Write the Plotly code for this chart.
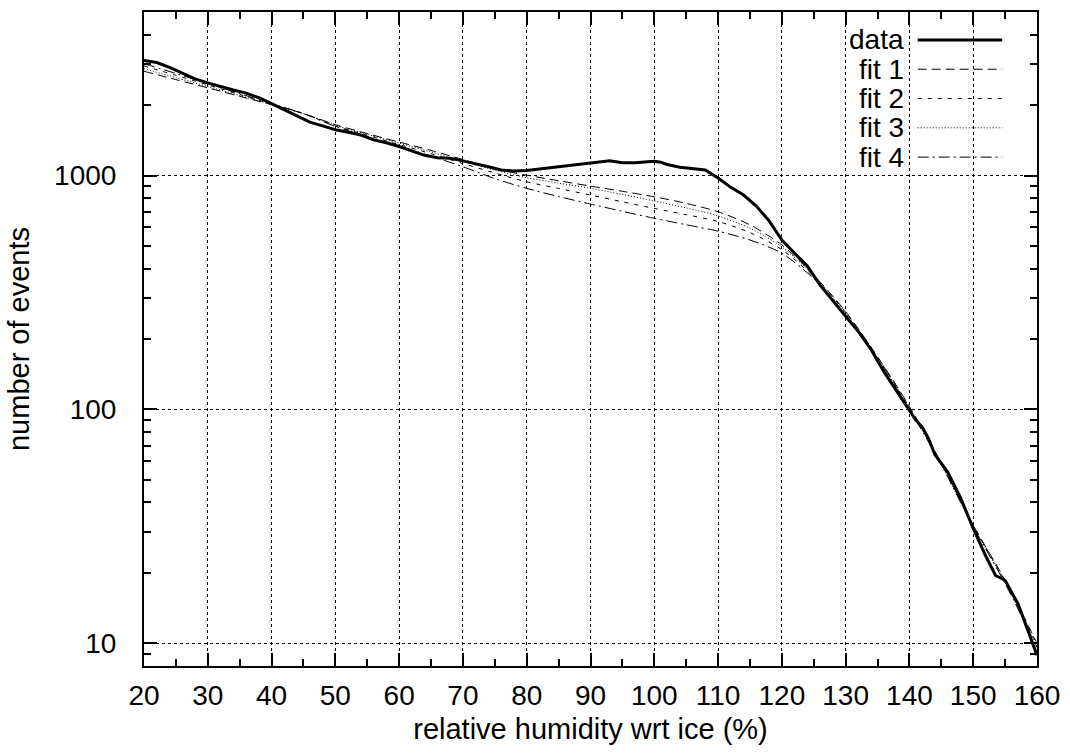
import plotly.graph_objs as go

# measured distribution
rh_data = [20, 22, 24, 26, 28, 30, 32, 34, 36, 38, 40, 42, 44, 46, 48, 50,
           52, 54, 56, 58, 60, 62, 64, 66, 68, 70, 72, 74, 76, 78, 80, 82,
           84, 86, 88, 90, 92, 93, 95, 97, 99, 100, 101, 102, 104, 106, 108,
           110, 112, 114, 116, 118, 120, 122, 124, 126, 128, 130, 132, 134,
           136, 138, 140, 141, 142, 143, 144, 146, 148, 150, 152, 153.5, 155,
           157, 158.5, 160]
events_data = [3100, 3040, 2900, 2740, 2590, 2490, 2400, 2320, 2250, 2150,
               2030, 1910, 1790, 1690, 1630, 1570, 1530, 1490, 1420, 1380,
               1330, 1270, 1220, 1190, 1185, 1155, 1125, 1090, 1055, 1045,
               1050, 1065, 1080, 1100, 1115, 1125, 1145, 1155, 1135, 1135,
               1145, 1150, 1140, 1115, 1085, 1070, 1055, 975, 890, 825, 740,
               640, 530, 465, 410, 340, 290, 250, 215, 180, 145, 120, 100, 90,
               84, 75, 64, 54, 42, 31, 23.5, 19.5, 18.6, 14.8, 11.5, 8.9]

# fitted curves
rh_fit = [20, 25, 30, 35, 40, 45, 50, 55, 60, 65, 70, 75, 80, 85, 90, 95,
          100, 105, 110, 115, 120, 125, 130, 135, 140, 145, 150, 155, 160]
fit1 = [2790, 2570, 2370, 2180, 2010, 1840, 1650, 1510, 1390, 1280, 1170,
        1070, 1003, 950, 901, 856, 811, 760, 700, 615, 505, 375, 262, 168,
        103, 59, 32, 18.6, 10]
fit2 = [2940, 2680, 2440, 2220, 2020, 1840, 1630, 1485, 1355, 1240, 1125,
        1025, 940, 880, 825, 772, 723, 680, 636, 570, 482, 368, 260, 167,
        102, 59, 32, 18.4, 9.9]
fit3 = [2860, 2620, 2400, 2200, 2010, 1840, 1640, 1500, 1375, 1260, 1150,
        1055, 978, 928, 881, 830, 778, 727, 672, 595, 495, 372, 258, 166,
        101, 58, 31.5, 18.2, 9.7]
fit4 = [3005, 2730, 2470, 2240, 2030, 1840, 1620, 1465, 1330, 1210, 1090,
        970, 881, 813, 755, 703, 656, 616, 578, 530, 465, 362, 255, 165,
        100, 58, 31.5, 18, 9.6]

legend_labels = ['data', 'fit 1', 'fit 2', 'fit 3', 'fit 4']
y_major = [10, 100, 1000]
y_minor = [9, 20, 30, 40, 50, 60, 70, 80, 90, 200, 300, 400, 500, 600, 700,
           800, 900, 2000, 3000, 4000]

font = dict(family='Liberation Sans, Arial, sans-serif', size=28,
            color='black')
# plotly scales axis titles by 1.2 unless the size is given
title_font = dict(family='Liberation Sans, Arial, sans-serif', size=29,
                  color='black')

dashes = ['solid', '9px,5px', '4px,6px', '1px,2px', '11px,4px,2px,4px']
widths = [3, 1, 1, 1, 1]

data = [go.Scatter(x=rh_data, y=events_data, mode='lines',
                   line=dict(color='black', width=widths[0]),
                   showlegend=False)]
for fit, dash, width in zip([fit1, fit2, fit3, fit4], dashes[1:], widths[1:]):
    data.append(go.Scatter(x=rh_fit, y=fit, mode='lines',
                           line=dict(color='black', width=width, dash=dash,
                                     shape='spline', smoothing=0.8),
                           showlegend=False))

# gnuplot style key: text on the left, line sample on the right
annotations = []
shapes = []
for i, label in enumerate(legend_labels):
    ky = 0.9573 - i * 0.0448
    annotations.append(dict(xref='paper', yref='paper', x=0.853, y=ky,
                            text=label, showarrow=False, xanchor='right',
                            yanchor='middle', font=font))
    shapes.append(dict(type='line', xref='paper', yref='paper',
                       x0=0.8664, x1=0.961, y0=ky, y1=ky,
                       line=dict(color='black', width=widths[i],
                                 dash=dashes[i])))

layout = go.Layout(
    width=1070,
    height=756,
    margin=dict(l=144, r=28, t=10, b=90),
    paper_bgcolor='white',
    plot_bgcolor='white',
    font=font,
    xaxis=dict(
        title=dict(text='relative humidity wrt ice (%)', standoff=9,
                   font=title_font),
        range=[20, 160],
        tickmode='linear', tick0=20, dtick=10,
        ticks='inside', ticklen=13, tickwidth=2, tickcolor='black',
        ticklabelstandoff=3,
        showline=True, linewidth=2, linecolor='black', mirror='ticks',
        showgrid=True, gridcolor='black', griddash='dot', gridwidth=1,
        zeroline=False,
        minor=dict(ticks='inside', ticklen=7, tickwidth=2, dtick=5,
                   tick0=20, tickcolor='black', showgrid=False),
    ),
    yaxis=dict(
        title=dict(text='number of events', standoff=16, font=title_font),
        type='log',
        range=[0.903, 3.699],
        tickmode='array', tickvals=y_major,
        ticktext=[str(v) for v in y_major],
        ticks='inside', ticklen=13, tickwidth=2, tickcolor='black',
        ticklabelstandoff=20,
        showline=True, linewidth=2, linecolor='black', mirror='ticks',
        showgrid=True, gridcolor='black', griddash='dot', gridwidth=1,
        zeroline=False,
        minor=dict(ticks='inside', ticklen=7, tickwidth=2,
                   tickmode='array', tickvals=y_minor,
                   tickcolor='black', showgrid=False),
    ),
    annotations=annotations,
    shapes=shapes,
)

fig = go.Figure(data=data, layout=layout)
fig.write_html('out.html', config={'displayModeBar': False},
               post_script="document.body.style.margin='0px';")
